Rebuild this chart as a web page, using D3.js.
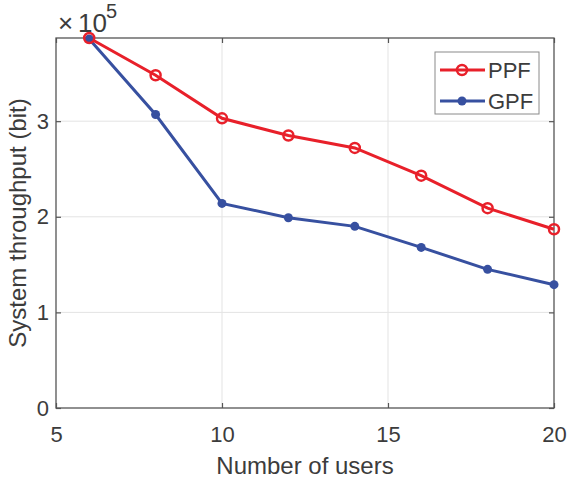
<!DOCTYPE html>
<html>
<head>
<meta charset="utf-8">
<script src="https://cdn.jsdelivr.net/npm/d3@7"></script>
<style>
  body { margin: 0; background: #fff; }
  text { font-family: Arial, "Liberation Sans", Helvetica, sans-serif; fill: #3c3c3c; }
</style>
</head>
<body>
<div id="svgWrapper"></div>
<script>
"use strict"
// data (throughput in units of 1e5 bit)
var users = [6, 8, 10, 12, 14, 16, 18, 20];
var ppf = [3.87, 3.48, 3.03, 2.85, 2.72, 2.43, 2.09, 1.87];
var gpf = [3.86, 3.07, 2.14, 1.99, 1.90, 1.68, 1.45, 1.29];
var xTicks = [5, 10, 15, 20];
var yTicks = [0, 1, 2, 3];
var seriesNames = ["PPF", "GPF"];

function visualiseData() {
    var fullWidth = 569;
    var fullHeight = 479;
    var svg = d3.select("#svgWrapper").append("svg")
        .attr("width", fullWidth).attr("height", fullHeight);

    var left = 56, right = 554, top = 38, bottom = 408;

    var xScale = d3.scaleLinear().domain([5, 20]).range([left, right]);
    var yScale = d3.scaleLinear().domain([0, 3.87]).range([bottom, top]);

    var axisColor = "#555555";

    // grid
    var grid = svg.append("g");
    grid.selectAll(".gx").data(xTicks.slice(1, -1)).enter().append("line")
        .attr("x1", d => xScale(d)).attr("x2", d => xScale(d))
        .attr("y1", top).attr("y2", bottom)
        .attr("stroke", "#e3e3e3").attr("stroke-width", 1);
    grid.selectAll(".gy").data(yTicks.slice(1)).enter().append("line")
        .attr("x1", left).attr("x2", right)
        .attr("y1", d => yScale(d)).attr("y2", d => yScale(d))
        .attr("stroke", "#e3e3e3").attr("stroke-width", 1);

    // box
    svg.append("rect").attr("x", left).attr("y", top)
        .attr("width", right - left).attr("height", bottom - top)
        .attr("fill", "none").attr("stroke", axisColor).attr("stroke-width", 1.3);

    // axes with inward ticks
    var xAxis = d3.axisBottom(xScale).tickValues(xTicks).tickSizeInner(-5).tickSizeOuter(0).tickPadding(18);
    var xTop = d3.axisTop(xScale).tickValues(xTicks).tickSizeInner(-5).tickSizeOuter(0).tickFormat("");
    var yAxis = d3.axisLeft(yScale).tickValues(yTicks).tickSizeInner(-5).tickSizeOuter(0).tickPadding(7).tickFormat(d3.format("d"));
    var yRight = d3.axisRight(yScale).tickValues(yTicks).tickSizeInner(-5).tickSizeOuter(0).tickFormat("");

    svg.append("g").attr("transform", "translate(0," + bottom + ")").call(xAxis);
    svg.append("g").attr("transform", "translate(0," + top + ")").call(xTop);
    svg.append("g").attr("transform", "translate(" + left + ",0)").call(yAxis);
    svg.append("g").attr("transform", "translate(" + right + ",0)").call(yRight);

    svg.selectAll(".domain").remove();
    svg.selectAll(".tick line").attr("stroke", axisColor).attr("stroke-width", 1.2);
    svg.selectAll(".tick text").style("font-size", "22px")
        .style("font-family", "Arial, 'Liberation Sans', sans-serif").attr("fill", "#3c3c3c");

    // exponent label
    var ex = svg.append("text").attr("x", 58).attr("y", 32).style("font-size", "26px");
    ex.append("tspan").text("\u00d7");
    ex.append("tspan").attr("x", 78).text("10");
    ex.append("tspan").attr("x", 106).attr("y", 18).style("font-size", "20px").text("5");

    // axis labels
    svg.append("text").attr("x", (left + right) / 2).attr("y", 474)
        .attr("text-anchor", "middle").style("font-size", "24px").text("Number of users");
    svg.append("text").attr("transform", "translate(26," + ((top + bottom) / 2) + ") rotate(-90)")
        .attr("text-anchor", "middle").style("font-size", "24px").text("System throughput (bit)");

    var red = "#e8202a", blue = "#3750a0";
    var line = d3.line().x(d => xScale(d[0])).y(d => yScale(d[1]));
    var ppfData = users.map((u, i) => [u, ppf[i]]);
    var gpfData = users.map((u, i) => [u, gpf[i]]);

    var data = svg.append("g");
    data.append("path").datum(gpfData).attr("d", line)
        .attr("fill", "none").attr("stroke", blue).attr("stroke-width", 3);
    data.append("path").datum(ppfData).attr("d", line)
        .attr("fill", "none").attr("stroke", red).attr("stroke-width", 3);
    data.selectAll(".gp").data(gpfData).enter().append("circle")
        .attr("cx", d => xScale(d[0])).attr("cy", d => yScale(d[1]))
        .attr("r", 4.5).attr("fill", blue);
    data.selectAll(".pp").data(ppfData).enter().append("circle")
        .attr("cx", d => xScale(d[0])).attr("cy", d => yScale(d[1]))
        .attr("r", 5).attr("fill", "none").attr("stroke", red).attr("stroke-width", 2.5);

    // legend
    var lg = svg.append("g");
    lg.append("rect").attr("x", 435).attr("y", 52).attr("width", 104).attr("height", 62)
        .attr("fill", "#fff").attr("stroke", "#8a8a8a").attr("stroke-width", 1);
    var colors = [red, blue];
    seriesNames.forEach(function(name, i) {
        var yy = 70 + i * 31;
        lg.append("line").attr("x1", 440).attr("x2", 485).attr("y1", yy).attr("y2", yy)
            .attr("stroke", colors[i]).attr("stroke-width", 3);
        if (i == 0) {
            lg.append("circle").attr("cx", 462).attr("cy", yy).attr("r", 5)
                .attr("fill", "none").attr("stroke", red).attr("stroke-width", 2.5);
        } else {
            lg.append("circle").attr("cx", 462).attr("cy", yy).attr("r", 4.5).attr("fill", blue);
        }
        lg.append("text").attr("x", 488).attr("y", yy + 8).style("font-size", "22px").text(name);
    });
}

visualiseData();
</script>
</body>
</html>
